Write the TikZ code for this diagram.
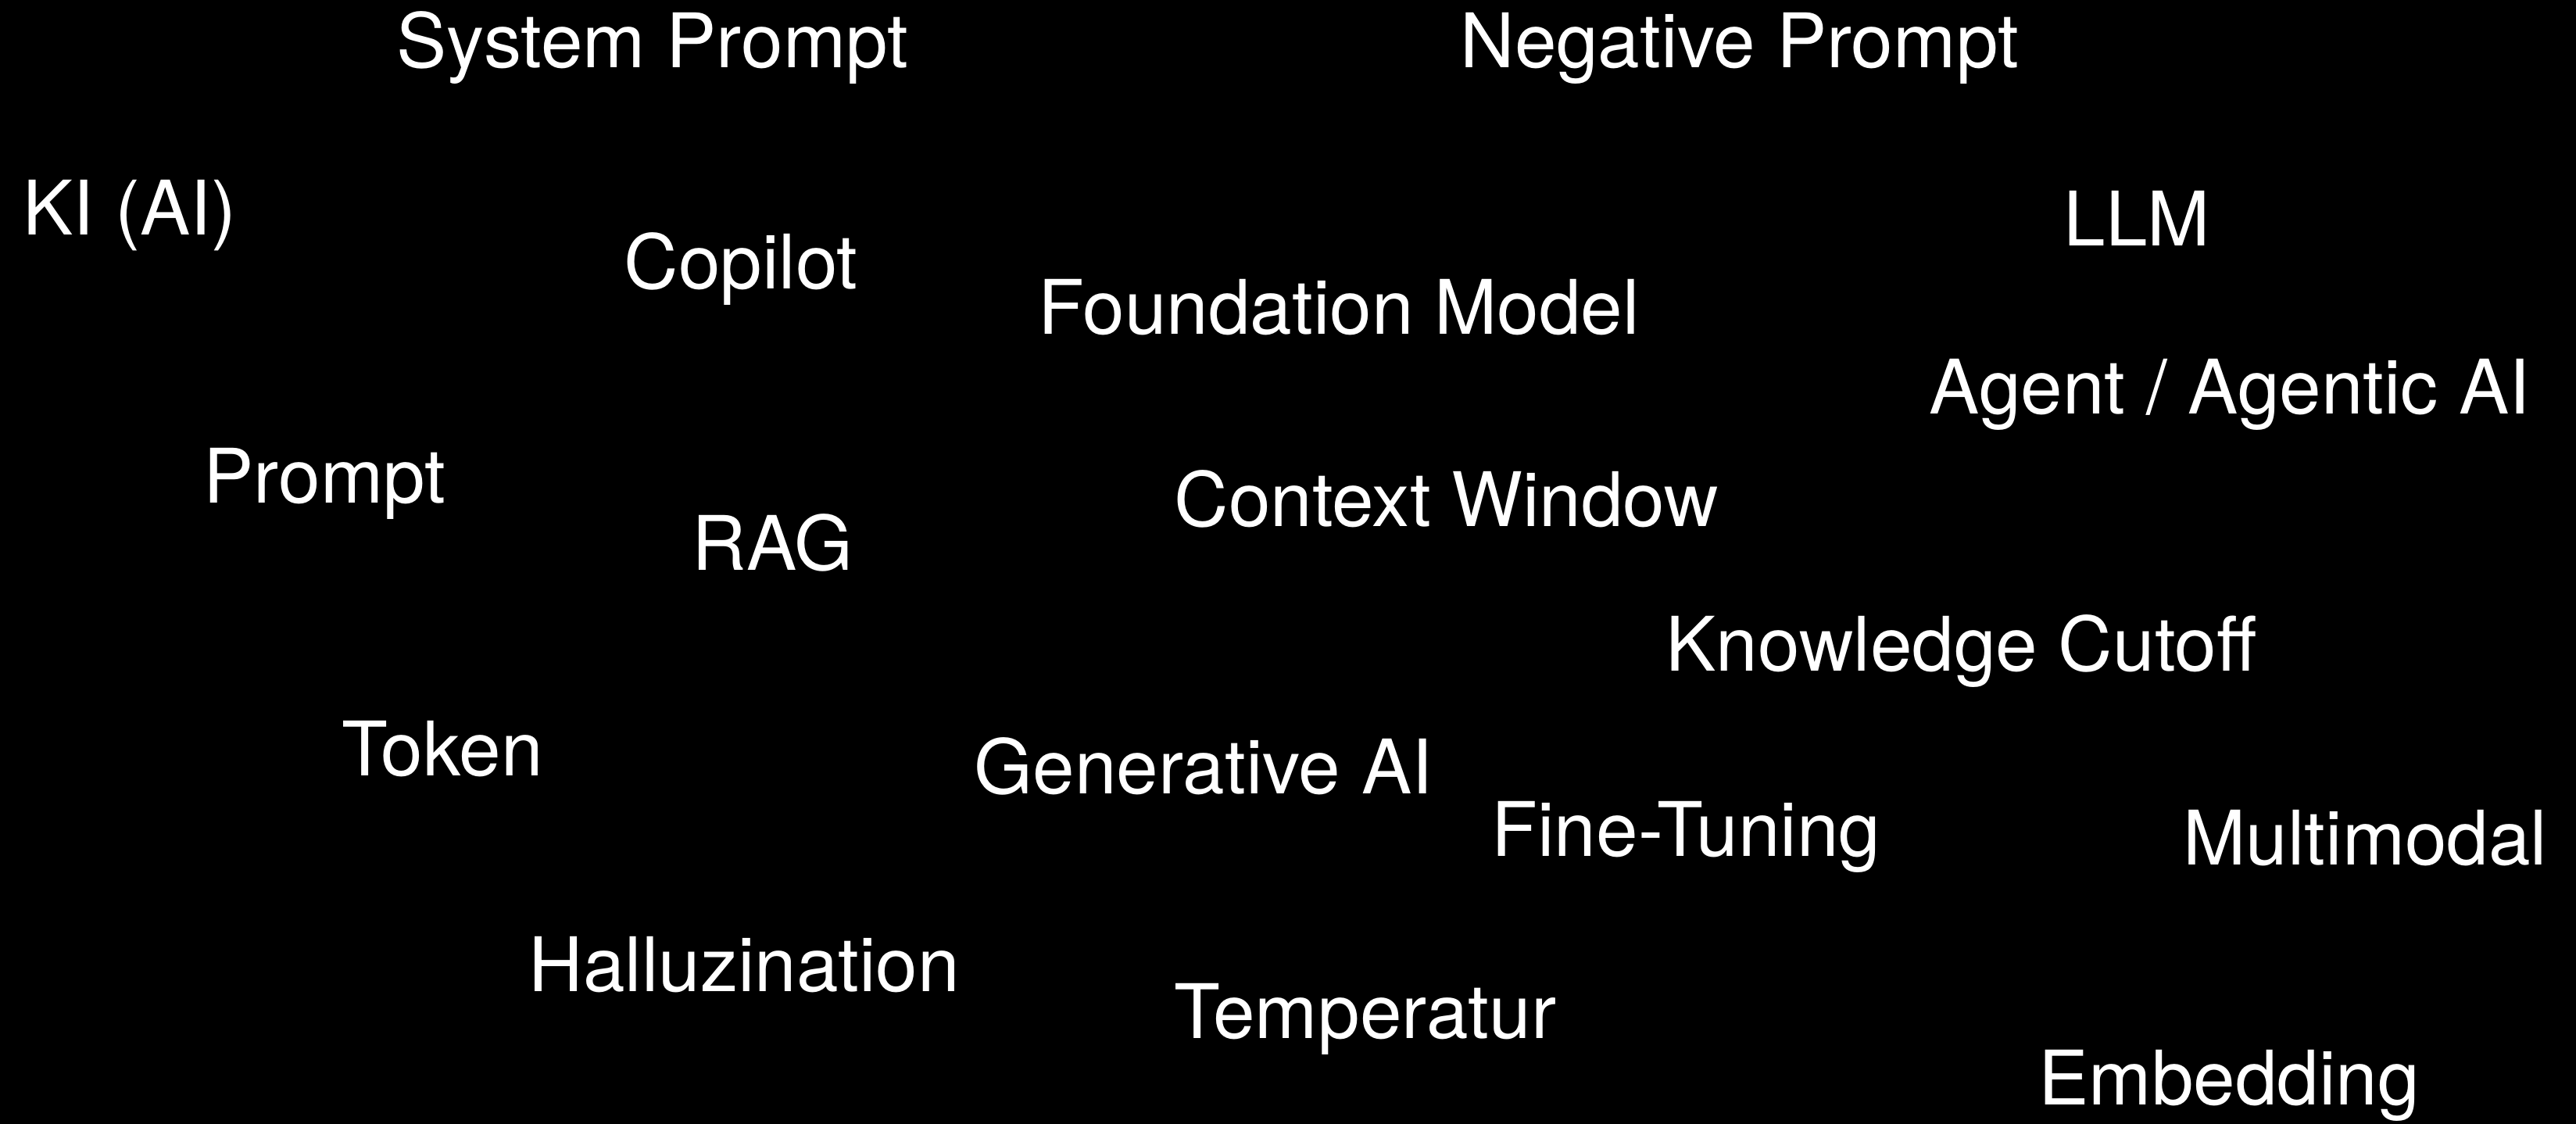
\documentclass[tikz,border=0pt]{standalone}
\usepackage{fontspec}
\setmainfont{TeX Gyre Heros}
\tikzset{term/.style={text=white,anchor=base west,inner sep=0pt,font=\fontsize{27.4}{32}\selectfont}}
\begin{document}
\begin{tikzpicture}[y=-1cm]
 		\fill[black] (0,0) rectangle (32.96,14.38);
 		\useasboundingbox (0,0) rectangle (32.96,14.38);
 		\foreach \n/\x/\y/\t in {%
 			sysprompt/5.07/0.87/{System Prompt}, negprompt/18.68/0.87/{Negative Prompt},
 			ki/0.29/3.01/{KI (AI)}, llm/26.40/3.15/{LLM},
 			copilot/7.98/3.70/{Copilot}, foundation/13.28/4.28/{Foundation Model},
 			agent/24.68/5.30/{Agent / Agentic AI}, prompt/2.60/6.43/{Prompt},
 			rag/8.85/7.29/{RAG}, context/15.02/6.73/{Context Window},
 			cutoff/21.31/8.58/{Knowledge Cutoff}, token/4.37/9.92/{Token},
 			genai/12.46/10.15/{Generative AI}, finetuning/19.08/10.95/{Fine-Tuning},
 			multimodal/27.93/11.06/{Multimodal}, halluzination/6.76/12.68/{Halluzination},
 			temperatur/15.02/13.28/{Temperatur}, embedding/26.08/14.13/{Embedding}
 		}{%
 		\node[term] (\n) at (\x,\y) {\t};
 		}%
 	\end{tikzpicture}
\end{document}
